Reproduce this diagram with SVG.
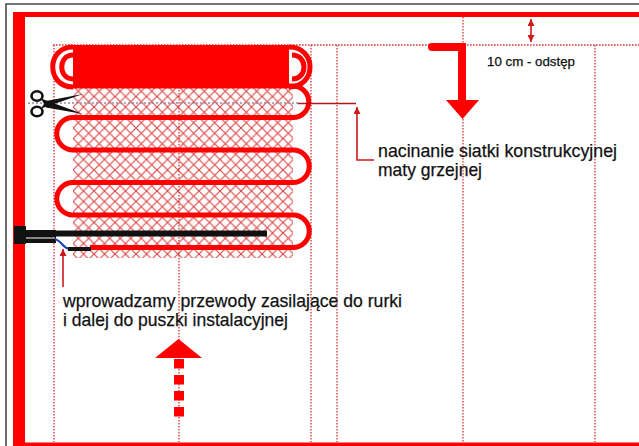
<svg xmlns="http://www.w3.org/2000/svg" width="639" height="446" viewBox="0 0 639 446">
  <defs>
    <style>
      .wall{fill:#ff0000}
      .guide{stroke:#d83434;stroke-width:1.3;stroke-dasharray:1.6 1.4;fill:none}
      .coil{stroke:#ff0000;stroke-width:5;fill:none}
      .lbl{font-family:"Liberation Sans",Arial,sans-serif;fill:#111111;stroke:#111111;stroke-width:0.25}
      .lead{stroke:#cc1a1a;stroke-width:1.6;fill:none}
    </style>
    <pattern id="mesh" patternUnits="userSpaceOnUse" x="73" y="86" width="10.5" height="10.5">
      <path d="M0,0 L10.5,10.5 M10.5,0 L0,10.5" stroke="#dc4242" stroke-width="1.1"/>
    </pattern>
    <marker id="tip" viewBox="0 0 8 8" refX="8" refY="4" markerWidth="7" markerHeight="7" markerUnits="userSpaceOnUse" orient="auto-start-reverse">
      <path d="M0,0 L8,4 L0,8 Z" fill="#cc1a1a"/>
    </marker>
  </defs>

  <rect width="639" height="446" fill="#ffffff"/>

  <!-- room outline and walls -->
  <g id="room">
    <path d="M6,446 V4 H639" stroke="#4a4a4a" stroke-width="1.6" fill="none"/>
    <rect class="wall" x="13" y="12" width="626" height="5"/>
    <rect class="wall" x="13" y="12" width="12" height="434"/>
    <rect class="wall" x="25" y="442.5" width="614" height="3.5"/>
  </g>

  <!-- layout guide lines -->
  <g id="guides">
    <path class="guide" d="M53,45 H639"/>
    <path class="guide" d="M54,45 V442"/>
    <path class="guide" d="M179,45 V442"/>
    <path class="guide" d="M311,45 V442"/>
    <path class="guide" d="M337,45 V442"/>
    <path class="guide" d="M463,17 V442"/>
    <path class="guide" d="M595,45 V442"/>
  </g>

  <!-- heating mat -->
  <g id="mat">
    <rect x="73" y="86" width="220" height="172" fill="url(#mesh)"/>
    <rect x="73" y="45" width="216" height="43" fill="#ff0000"/>
    <path class="coil" d="M73,47 C46,47 46,87 73,87"/>
    <path class="coil" stroke-width="3.5" d="M73,55 C58,55 58,79 73,79"/>
    <path class="coil" d="M289,47 C317,47 317,87 289,87"/>
    <path class="coil" stroke-width="3.5" d="M292,55 C308,55 308,79 292,79"/>
    <path class="coil" d="M90,247.5 H293 A16.25,16.25 0 0 0 293,215 H73 A16.25,16.25 0 0 1 73,182.5 H293 A16.25,16.25 0 0 0 293,150 H73 A16.25,16.25 0 0 1 73,117.5 H293 A15.75,15.75 0 0 0 293,86 H73"/>
  </g>

  <!-- cutting line with scissors -->
  <g id="cut">
    <path d="M28,103 H298" stroke="#8a8fb0" stroke-width="1.5" stroke-dasharray="2 2" fill="none"/>
    <path d="M298,103.5 H356" stroke="#b01818" stroke-width="1.6" fill="none"/>
    <ellipse cx="37" cy="96" rx="5.5" ry="4.8" fill="none" stroke="#111" stroke-width="2.6"/>
    <ellipse cx="37" cy="111.5" rx="5.5" ry="4.8" fill="none" stroke="#111" stroke-width="2.6"/>
    <path d="M41,98.5 L83,114 L46,107.5 Z" fill="#111"/>
    <path d="M41,108.5 L83,94 L46,101 Z" fill="#111"/>
  </g>

  <!-- supply cable and conduit -->
  <g id="cable">
    <rect x="14" y="226" width="12" height="18" fill="#111"/>
    <rect x="26" y="230" width="30" height="13" fill="#111"/>
    <path d="M26,238 H55" stroke="#d8d8d8" stroke-width="1.2"/>
    <rect x="26" y="230.5" width="241" height="6" fill="#111"/>
    <path d="M55,239.5 C61,239.5 63,249 70,249" stroke="#1a3fbf" stroke-width="2.2" fill="none"/>
    <path d="M68,249 H91" stroke="#111" stroke-width="4"/>
  </g>

  <!-- direction arrows -->
  <g id="arrows">
    <path d="M432,43 H466 V100 H479 L462.5,119 L446,100 H458 V51 H432 A4,4 0 0 1 432,43 Z" fill="#ff0000"/>
    <path d="M155,358 L202,358 L178.5,339 Z" fill="#ff0000"/>
    <path d="M179,359 V417" stroke="#ff0000" stroke-width="10" stroke-dasharray="9.5 6.5"/>
  </g>

  <!-- leaders -->
  <g id="connectors">
    <path class="lead" d="M531,19 V42" marker-start="url(#tip)" marker-end="url(#tip)"/>
    <path class="lead" d="M374,160 H357 V107" marker-end="url(#tip)"/>
    <path class="lead" d="M63,287 V249" marker-end="url(#tip)"/>
  </g>

  <!-- labels -->
  <g id="labels">
    <text class="lbl" x="487" y="66" font-size="12.5" textLength="88" lengthAdjust="spacingAndGlyphs">10 cm - odstęp</text>
    <text class="lbl" x="378" y="157" font-size="19" textLength="239" lengthAdjust="spacingAndGlyphs">nacinanie siatki konstrukcyjnej</text>
    <text class="lbl" x="378" y="176" font-size="19" textLength="104" lengthAdjust="spacingAndGlyphs">maty grzejnej</text>
    <text class="lbl" x="63" y="307" font-size="19" textLength="339" lengthAdjust="spacingAndGlyphs">wprowadzamy przewody zasilające do rurki</text>
    <text class="lbl" x="63" y="326" font-size="19" textLength="225" lengthAdjust="spacingAndGlyphs">i dalej do puszki instalacyjnej</text>
  </g>
</svg>
